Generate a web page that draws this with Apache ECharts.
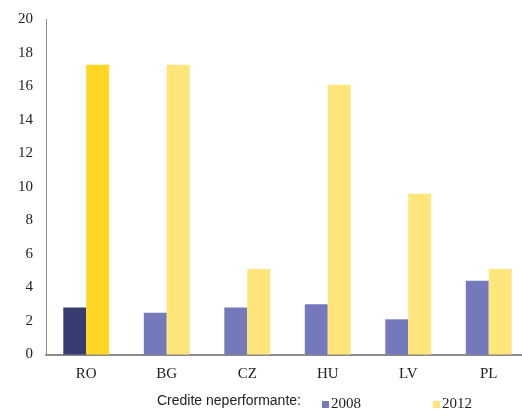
<!DOCTYPE html>
<html>
<head>
<meta charset="utf-8">
<script src="https://cdn.jsdelivr.net/npm/echarts@6/dist/echarts.min.js"></script>
<style>
  html, body { margin: 0; padding: 0; background: #fff; }
  #chart { width: 522px; height: 412px; }
</style>
</head>
<body>
<div id="chart"></div>
<script>
// Non-performing loans by country, 2008 vs 2012 (%)
const countries = ['RO', 'BG', 'CZ', 'HU', 'LV', 'PL'];
const values2008 = [2.8, 2.5, 2.8, 3.0, 2.1, 4.4];
const values2012 = [17.3, 17.3, 5.1, 16.1, 9.6, 5.1];
const yTicks = { min: 0, max: 20, step: 2 };

// Romania is highlighted with darker shades
const highlight = 'RO';
const color2008 = '#7479BC', color2008Hi = '#363B70';
const color2012 = '#FFE57A', color2012Hi = '#FFD724';

function withHighlight(values, base, hi) {
  return values.map((v, i) => ({
    value: v,
    itemStyle: { color: countries[i] === highlight ? hi : base }
  }));
}

const serif = '"Liberation Serif", "Times New Roman", serif';
const chart = echarts.init(document.getElementById('chart'), null, { renderer: 'canvas' });

chart.setOption({
  animation: false,
  backgroundColor: '#fff',
  // plot area runs slightly past the right edge of the canvas
  grid: { left: 46, top: 19.5, width: 483, height: 335, containLabel: false, outerBoundsMode: 'none' },
  legend: {
    left: 322,
    top: 397,
    padding: 0,
    itemWidth: 7,
    itemHeight: 7,
    itemGap: 72,
    icon: 'rect',
    textStyle: { fontFamily: serif, fontSize: 15, color: '#222', padding: [2, 0, 0, -3] },
    data: [
      { name: '2008', itemStyle: { color: color2008 } },
      { name: '2012', itemStyle: { color: color2012 } }
    ]
  },
  graphic: [{
    type: 'text',
    left: 157,
    top: 394,
    style: {
      text: 'Credite neperformante:',
      font: '14px "Liberation Sans", Arial, sans-serif',
      fill: '#222'
    }
  }],
  xAxis: {
    type: 'category',
    data: countries,
    axisLine: { lineStyle: { color: '#8a8a8a', width: 2 } },
    axisTick: { show: false },
    axisLabel: { fontFamily: serif, fontSize: 15, color: '#222', margin: 12 }
  },
  yAxis: {
    type: 'value',
    min: yTicks.min,
    max: yTicks.max,
    interval: yTicks.step,
    axisLine: { show: true, lineStyle: { color: '#8a8a8a', width: 1 } },
    axisTick: { show: false },
    splitLine: { show: false },
    axisLabel: { fontFamily: serif, fontSize: 15, color: '#222', margin: 13 }
  },
  series: [
    {
      name: '2008',
      type: 'bar',
      data: withHighlight(values2008, color2008, color2008Hi),
      barWidth: '28.5%',
      barGap: '0%'
    },
    {
      name: '2012',
      type: 'bar',
      data: withHighlight(values2012, color2012, color2012Hi),
      barWidth: '28.5%',
      barGap: '0%'
    }
  ]
});
</script>
</body>
</html>
